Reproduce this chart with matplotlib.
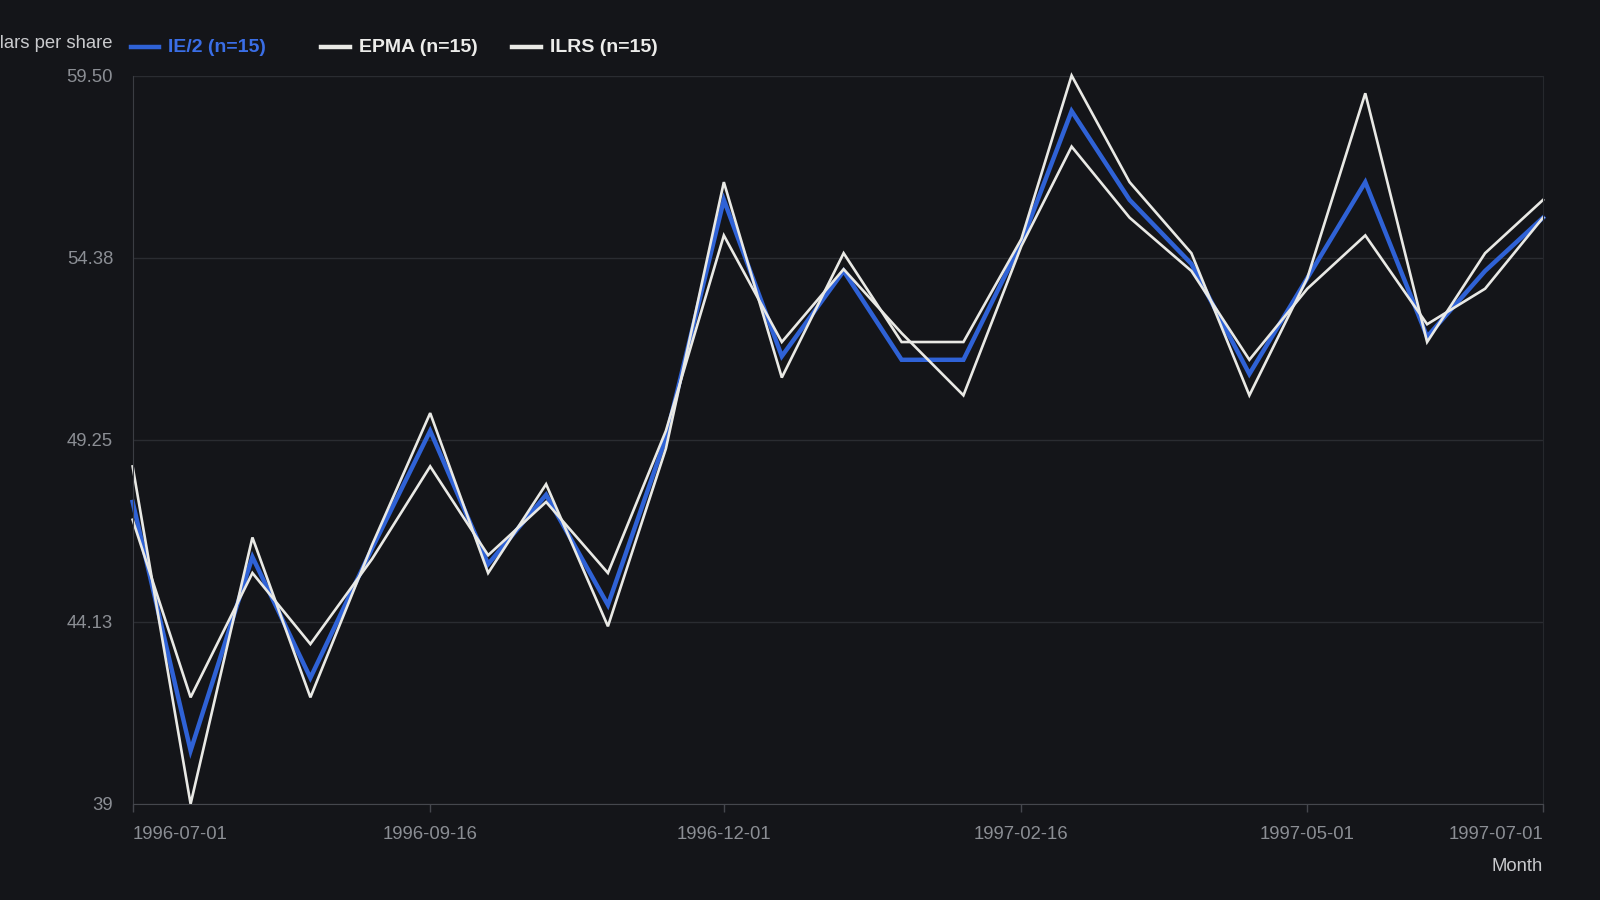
import numpy as np
import pandas as pd
import matplotlib
matplotlib.use('Agg')
import matplotlib.pyplot as plt
import matplotlib.dates as mdates
from matplotlib.lines import Line2D

# half-monthly observations, dollars per share
dates = ['1996-07-01', '1996-07-16', '1996-08-01', '1996-08-16', '1996-09-01',
         '1996-09-16', '1996-10-01', '1996-10-16', '1996-11-01', '1996-11-16',
         '1996-12-01', '1996-12-16', '1997-01-01', '1997-01-16', '1997-02-01',
         '1997-02-16', '1997-03-01', '1997-03-16', '1997-04-01', '1997-04-16',
         '1997-05-01', '1997-05-16', '1997-06-01', '1997-06-16', '1997-07-01']
ie2 = [47.5, 40.5, 45.95, 42.55, 46.2, 49.5, 45.75, 47.7, 44.6, 49.3,
       56.0, 51.6, 54.0, 51.5, 51.5, 54.8, 58.5, 56.0, 54.2, 51.1,
       53.8, 56.5, 52.15, 54.0, 55.5]
epma = [48.5, 39.0, 46.5, 42.0, 46.3, 50.0, 45.5, 48.0, 44.0, 49.0,
        56.5, 51.0, 54.5, 52.0, 52.0, 54.9, 59.5, 56.5, 54.5, 50.5,
        53.8, 59.0, 52.0, 54.5, 56.0]
ilrs = [47.0, 42.0, 45.5, 43.5, 45.9, 48.5, 46.0, 47.5, 45.5, 49.5,
        55.0, 52.0, 54.05, 52.25, 50.5, 54.7, 57.5, 55.5, 54.0, 51.5,
        53.5, 55.0, 52.5, 53.5, 55.5]

series_names = ['IE/2 (n=15)', 'EPMA (n=15)', 'ILRS (n=15)']
series_data = [ie2, epma, ilrs]

x_ticks = ['1996-07-01', '1996-09-16', '1996-12-01', '1997-02-16', '1997-05-01', '1997-07-01']
y_ticks = [39, 44.125, 49.25, 54.375, 59.5]
y_tick_labels = ['39', '44.13', '49.25', '54.38', '59.50']

bg = '#141519'
blue = '#2f62d6'
white = '#e9e9e5'
colors = [blue, white, white]
widths = [3.2, 1.9, 1.9]
text_colors = ['#3a6ee6', '#ececea', '#ececea']

plt.rcParams['font.family'] = ['Liberation Sans', 'DejaVu Sans']

x = pd.to_datetime(dates)

fig = plt.figure(figsize=(16, 9), dpi=100, facecolor=bg)
ax = fig.add_axes([0.0829, 0.1067, 0.8815, 0.8094], facecolor=bg)

for name, vals, c, lw in zip(series_names, series_data, colors, widths):
    ax.plot(x, vals, color=c, lw=lw, solid_joinstyle='miter', label=name, clip_on=False)

ax.set_xlim(pd.Timestamp(dates[0]), pd.Timestamp(dates[-1]))
ax.set_ylim(y_ticks[0], y_ticks[-1])
ax.set_yticks(y_ticks)
ax.set_yticklabels(y_tick_labels)
ax.set_xticks(pd.to_datetime(x_ticks))
ax.set_xticklabels(x_ticks)

ax.grid(axis='y', color='#2a2c31', lw=1)
ax.set_axisbelow(True)
ax.spines['top'].set_visible(False)
ax.spines['left'].set_color('#3b3d43')
ax.spines['bottom'].set_color('#45474d')
ax.spines['right'].set_color('#26282d')

ax.tick_params(axis='y', length=0, pad=14, labelsize=13.3, labelcolor='#8b8e94')
ax.tick_params(axis='x', length=6, width=1, color='#45474d', pad=10,
               labelsize=13.3, labelcolor='#8b8e94')
labels = ax.get_xticklabels()
labels[0].set_ha('left')
labels[-1].set_ha('right')

ax.text(1.0, -0.0865, 'Month', transform=ax.transAxes, ha='right', va='center',
        fontsize=13.3, color='#c9cacd')

# y axis title sits at the top left, partly off the canvas
fig.text(113 / 1600, 1 - 44 / 900, 'Dollars per share', ha='right', va='center',
         fontsize=13.3, color='#c9cacd')

# legend entries with fixed widths
x0 = 130.6 / 1600
step = 190.8 / 1600
ly = 1 - 47 / 900
for i, (name, c, tc) in enumerate(zip(series_names, colors, text_colors)):
    lx = x0 + i * step
    fig.add_artist(Line2D([lx, lx + 28.6 / 1600], [ly, ly], color=c, lw=3.2,
                          transform=fig.transFigure))
    fig.text(lx + 37.5 / 1600, ly, name, ha='left', va='center', fontsize=14,
             fontweight='bold', color=tc)

fig.savefig('out.png', dpi=100, facecolor=bg)
